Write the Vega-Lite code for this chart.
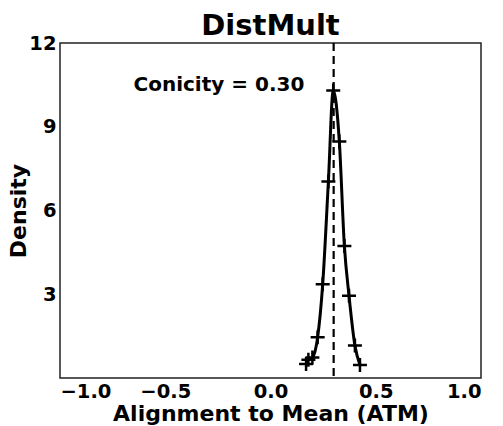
{
  "$schema": "https://vega.github.io/schema/vega-lite/v6.json",
  "width": 421,
  "height": 335,
  "autosize": {"type": "none"},
  "padding": {"left": 60, "top": 43, "right": 22, "bottom": 48},
  "background": "white",
  "title": {"text": "DistMult", "font": "DejaVu Sans", "fontSize": 29, "fontWeight": "bold", "color": "black", "anchor": "middle", "offset": -8},
  "config": {
    "view": {"stroke": "#222", "strokeWidth": 1.5},
    "axis": {"grid": false, "domain": false, "ticks": false, "labelFont": "DejaVu Sans", "labelFontWeight": "bold", "labelFontSize": 19.5, "labelColor": "black", "titleFont": "DejaVu Sans", "titleFontWeight": "bold", "titleFontSize": 22, "titleColor": "black"}
  },
  "datasets": {
    "curve": [
      {"atm": 0.169, "density": 0.50},
      {"atm": 0.180, "density": 0.65},
      {"atm": 0.199, "density": 0.73},
      {"atm": 0.224, "density": 1.46},
      {"atm": 0.248, "density": 3.36},
      {"atm": 0.275, "density": 7.04},
      {"atm": 0.298, "density": 10.3},
      {"atm": 0.327, "density": 8.47},
      {"atm": 0.351, "density": 4.73},
      {"atm": 0.373, "density": 2.95},
      {"atm": 0.401, "density": 1.16},
      {"atm": 0.425, "density": 0.47}
    ],
    "mean": [{"atm": 0.30, "label": "Conicity = 0.30", "lx": -0.245, "ly": 10.5}]
  },
  "layer": [
    {
      "data": {"name": "mean"},
      "mark": {"type": "rule", "color": "black", "strokeWidth": 2.2, "strokeDash": [8, 5]},
      "encoding": {
        "x": {"field": "atm", "type": "quantitative", "scale": {"domain": [-1, 1], "nice": false}}
      }
    },
    {
      "data": {"name": "curve"},
      "mark": {"type": "line", "color": "black", "strokeWidth": 3, "interpolate": "monotone"},
      "encoding": {
        "x": {"field": "atm", "type": "quantitative", "scale": {"domain": [-1, 1], "nice": false},
          "axis": {"values": [-1, -0.5, 0, 0.5, 1], "format": ".1f", "labelPadding": 4, "title": "Alignment to Mean (ATM)", "titlePadding": 3}},
        "y": {"field": "density", "type": "quantitative", "scale": {"domain": [0, 12], "nice": false},
          "axis": {"values": [3, 6, 9, 12], "format": "d", "labelPadding": 4, "title": "Density", "titleX": -35, "titleBaseline": "alphabetic", "titleAngle": -90}}
      }
    },
    {
      "data": {"name": "curve"},
      "mark": {"type": "point", "shape": "M-1,0L1,0M0,-1L0,1", "size": 196, "filled": false, "color": "black", "strokeWidth": 2.5, "opacity": 1},
      "encoding": {
        "x": {"field": "atm", "type": "quantitative"},
        "y": {"field": "density", "type": "quantitative"}
      }
    },
    {
      "data": {"name": "mean"},
      "mark": {"type": "text", "font": "DejaVu Sans", "fontWeight": "bold", "fontSize": 20, "color": "black", "align": "center", "baseline": "middle"},
      "encoding": {
        "x": {"field": "lx", "type": "quantitative"},
        "y": {"field": "ly", "type": "quantitative"},
        "text": {"field": "label"}
      }
    }
  ]
}
